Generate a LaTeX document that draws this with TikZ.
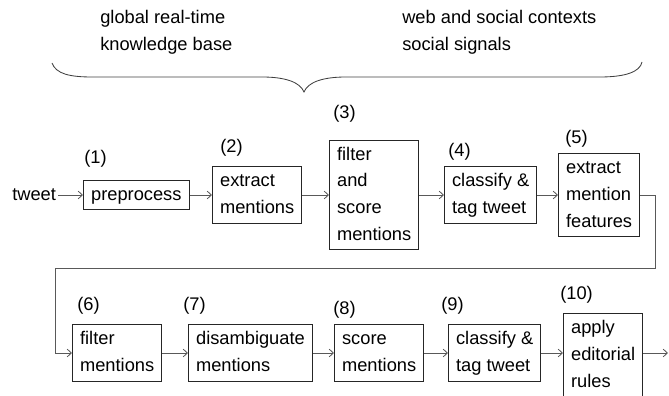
\documentclass[tikz,border=0pt]{standalone}
\usepackage{fontspec}
\setmainfont{Liberation Sans}
\usetikzlibrary{arrows.meta}
\usetikzlibrary{positioning}

% one strut-high row per line of a box
\newcommand{\celltext}[1]{\begin{tabular}{@{}l@{}}#1\end{tabular}}

\tikzset{
  txt/.style={font=\fontsize{13}{19}\selectfont, inner sep=0pt},
  stage/.style={txt, draw=black!85, line width=0.7pt, inner xsep=0.19cm, inner ysep=1.1pt, anchor=west},
  num/.style={font=\fontsize{13}{19}\selectfont, inner sep=0pt, anchor=west},
  flow/.style={draw=black!65, line width=0.6pt, -{Straight Barb[length=3pt,width=5.5pt]}},
}

\begin{document}
\begin{tikzpicture}
	\useasboundingbox (0,0) rectangle (16.725,9.875);

	% resources on top, gathered by the brace
	\node[txt, anchor=west] (kb) at (2.5,9.0875) {\celltext{global real-time\\knowledge base}};
	\node[txt, anchor=west] (ctx) at (10.05,9.0875) {\celltext{web and social contexts\\social signals}};
	\draw[draw=black!75, line width=0.6pt] (1.3,8.3) .. controls (1.4,8.025) and (1.75,7.95) .. (2.3,7.95) -- (6.55,7.95)
		.. controls (7.125,7.95) and (7.5,7.825) .. (7.6,7.575) .. controls (7.7,7.825) and (8.075,7.95) .. (8.65,7.95)
		-- (15.0,7.95) .. controls (15.625,7.95) and (16.0,8.075) .. (16.05,8.325);

	% first row
	\node[txt, anchor=west, inner xsep=0.05cm] (tweet) at (0.25,5) {\celltext{tweet}};
	\node[stage] (b1) at (2.075,5) {\celltext{preprocess}};
	\node[stage] (b2) at (5.3,5) {\celltext{extract\\mentions}};
	\node[stage] (b3) at (8.225,5) {\celltext{filter\\and\\score\\mentions}};
	\node[stage] (b4) at (11.1,5) {\celltext{classify \&\\tag tweet}};
	\node[stage] (b5) at (13.95,5) {\celltext{extract\\mention\\features}};

	% second row
	\node[stage] (b6) at (1.8,1.05) {\celltext{filter\\mentions}};
	\node[stage] (b7) at (4.7,1.05) {\celltext{disambiguate\\mentions}};
	\node[stage] (b8) at (8.35,1.05) {\celltext{score\\mentions}};
	\node[stage] (b9) at (11.2,1.05) {\celltext{classify \&\\tag tweet}};
	\node[stage] (b10) at (14.075,1.0) {\celltext{apply\\editorial\\rules}};

	% step numbers
	\node[num] (n1) at (2.1,5.9) {(1)};
	\node[num] (n2) at (5.5,6.175) {(2)};
	\node[num] (n3) at (8.325,7.025) {(3)};
	\node[num] (n4) at (11.2,6.075) {(4)};
	\node[num] (n5) at (14.125,6.4) {(5)};
	\node[num] (n6) at (1.925,2.225) {(6)};
	\node[num] (n7) at (4.575,2.225) {(7)};
	\node[num] (n8) at (8.325,2.125) {(8)};
	\node[num] (n9) at (11.025,2.225) {(9)};
	\node[num] (n10) at (14.0,2.5) {(10)};

	\coordinate (turn) at (16.375,5);
	\coordinate (bend) at (1.375,3.175);
	\coordinate (out) at (16.7,1.05);

	\draw[flow] (tweet) -- (b1);
	\draw[flow] (b1) -- (b2);
	\draw[flow] (b2) -- (b3);
	\draw[flow] (b3) -- (b4);
	\draw[flow] (b4) -- (b5);
	\draw[flow] (b5.east) -- (turn) |- (bend) |- (b6.west);
	\draw[flow] (b6) -- (b7);
	\draw[flow] (b7) -- (b8);
	\draw[flow] (b8) -- (b9);
	\draw[flow] (b9.east) -- (b9.east -| b10.west);
	\draw[flow] (b10.east |- b9.east) -- (out);
\end{tikzpicture}
\end{document}
